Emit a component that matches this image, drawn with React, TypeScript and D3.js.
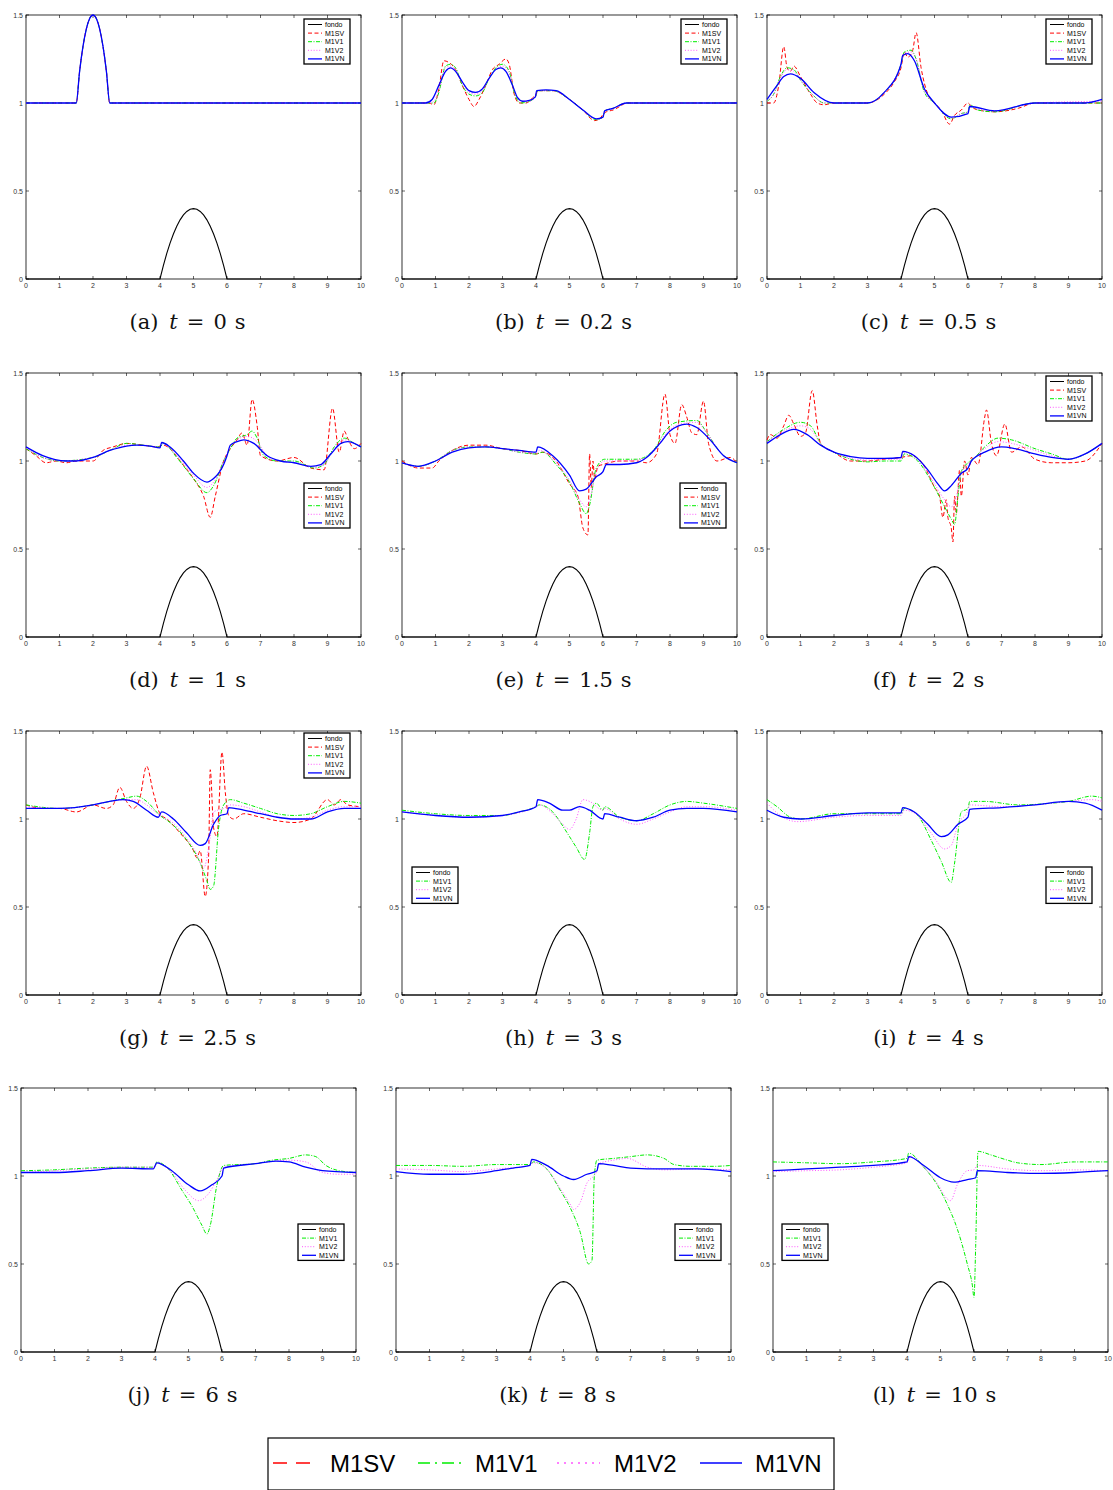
import React from 'react';
import * as d3 from 'd3';

type Pt = [number, number];

const xTicks = [0, 1, 2, 3, 4, 5, 6, 7, 8, 9, 10];
const yTicks = [0, 0.5, 1, 1.5];
const yTickLabels = ['0', '0.5', '1', '1.5'];
const seriesNames = ['fondo', 'M1SV', 'M1V1', 'M1V2', 'M1VN'];
const panelIds = ['a', 'b', 'c', 'd', 'e', 'f', 'g', 'h', 'i', 'j', 'k', 'l'];
const times = ['0', '0.2', '0.5', '1', '1.5', '2', '2.5', '3', '4', '6', '8', '10'];

// bottom topography (same in every panel)
const fondo: Pt[] = [[0, 0], [4, 0], [4.1, 0.076], [4.2, 0.144], [4.3, 0.204], [4.4, 0.256], [4.5, 0.3], [4.6, 0.336], [4.7, 0.364], [4.8, 0.384], [4.9, 0.396], [5, 0.4], [5.1, 0.396], [5.2, 0.384], [5.3, 0.364], [5.4, 0.336], [5.5, 0.3], [5.6, 0.256], [5.7, 0.204], [5.8, 0.144], [5.9, 0.076], [6, 0], [10, 0]];

// (a) t = 0
const aAll: Pt[] = [[0, 1], [1.5, 1], [1.6, 1.18], [1.7, 1.32], [1.8, 1.42], [1.9, 1.48], [2, 1.5], [2.1, 1.48], [2.2, 1.42], [2.3, 1.32], [2.4, 1.18], [2.5, 1], [10, 1]];

// (b) t = 0.2
const bSV: Pt[] = [[0, 1], [0.8, 1], [0.95, 0.99], [1.1, 1.08], [1.25, 1.24], [1.4, 1.23], [1.6, 1.19], [1.8, 1.1], [2.0, 1.02], [2.15, 0.98], [2.3, 1.02], [2.5, 1.1], [2.7, 1.19], [2.9, 1.22], [3.1, 1.25], [3.2, 1.22], [3.35, 1.05], [3.5, 1.0], [3.7, 1.0], [3.9, 1.03], [4.0, 1.05], [4.05, 1.07], [4.5, 1.07], [5, 1.02], [5.4, 0.96], [5.75, 0.9], [5.9, 0.91], [6.0, 0.935], [6.1, 0.95], [6.3, 0.96], [6.5, 0.98], [6.7, 1], [10, 1]];
const bV1: Pt[] = [[0, 1], [0.8, 1], [0.95, 1.0], [1.1, 1.06], [1.3, 1.21], [1.45, 1.22], [1.6, 1.2], [1.8, 1.1], [2.0, 1.05], [2.2, 1.04], [2.4, 1.06], [2.6, 1.14], [2.8, 1.2], [3.0, 1.22], [3.2, 1.18], [3.35, 1.06], [3.55, 1.0], [3.8, 1.01], [4.0, 1.04], [4.05, 1.07], [4.5, 1.07], [5, 1.02], [5.4, 0.96], [5.8, 0.905], [6.0, 0.92], [6.05, 0.955], [6.3, 0.97], [6.7, 1], [10, 1]];
const bV2: Pt[] = [[0, 1], [0.8, 1], [0.95, 1.01], [1.1, 1.07], [1.3, 1.2], [1.45, 1.21], [1.6, 1.19], [1.8, 1.11], [2.0, 1.06], [2.2, 1.05], [2.4, 1.07], [2.6, 1.14], [2.8, 1.19], [3.0, 1.21], [3.2, 1.17], [3.35, 1.07], [3.55, 1.01], [3.8, 1.01], [4.0, 1.04], [4.05, 1.07], [4.5, 1.07], [5, 1.02], [5.4, 0.96], [5.8, 0.91], [6.0, 0.92], [6.05, 0.955], [6.3, 0.97], [6.7, 1], [10, 1]];
const bVN: Pt[] = [[0, 1], [0.7, 1], [0.9, 1.02], [1.1, 1.1], [1.3, 1.18], [1.45, 1.2], [1.6, 1.18], [1.8, 1.12], [2.0, 1.07], [2.2, 1.06], [2.4, 1.08], [2.6, 1.14], [2.8, 1.19], [2.95, 1.2], [3.1, 1.18], [3.3, 1.1], [3.45, 1.03], [3.6, 1.01], [3.8, 1.015], [3.98, 1.035], [4.02, 1.07], [4.3, 1.075], [4.6, 1.07], [5.0, 1.02], [5.4, 0.96], [5.8, 0.91], [6.0, 0.92], [6.05, 0.955], [6.3, 0.97], [6.7, 1], [10, 1]];

// (c) t = 0.5
const cSV: Pt[] = [[0, 1], [0.2, 1.0], [0.35, 1.1], [0.5, 1.32], [0.6, 1.2], [0.7, 1.18], [0.8, 1.21], [1.0, 1.15], [1.3, 1.05], [1.5, 1.0], [1.7, 0.99], [2.0, 1.0], [3.0, 1.0], [3.5, 1.05], [3.8, 1.12], [4.0, 1.2], [4.1, 1.29], [4.2, 1.26], [4.35, 1.3], [4.45, 1.4], [4.6, 1.2], [4.8, 1.05], [5.0, 1.0], [5.2, 0.96], [5.45, 0.88], [5.6, 0.93], [5.8, 0.96], [6.0, 1.0], [6.1, 0.98], [6.3, 0.96], [6.8, 0.95], [7.5, 0.97], [8, 1.0], [10, 1.0]];
const cV1: Pt[] = [[0, 1.01], [0.2, 1.05], [0.4, 1.15], [0.6, 1.2], [0.8, 1.19], [1.0, 1.13], [1.4, 1.04], [1.7, 1.0], [2, 1.0], [3, 1.0], [3.5, 1.06], [4.0, 1.22], [4.1, 1.29], [4.3, 1.3], [4.45, 1.25], [4.7, 1.06], [5.0, 1.0], [5.5, 0.91], [5.8, 0.94], [6.0, 0.95], [6.05, 0.99], [6.3, 0.96], [6.8, 0.95], [8, 1.0], [10, 1.0]];
const cV2: Pt[] = [[0, 1.01], [0.2, 1.05], [0.4, 1.14], [0.6, 1.19], [0.8, 1.18], [1.0, 1.13], [1.4, 1.04], [1.7, 1.0], [2, 1.0], [3, 1.0], [3.5, 1.06], [4.0, 1.22], [4.1, 1.28], [4.3, 1.29], [4.45, 1.25], [4.7, 1.07], [5.0, 1.0], [5.5, 0.915], [5.8, 0.94], [6.0, 0.95], [6.05, 0.985], [6.3, 0.965], [6.8, 0.955], [8, 1.0], [10, 1.01]];
const cVN: Pt[] = [[0, 1.02], [0.3, 1.1], [0.5, 1.15], [0.7, 1.165], [1.0, 1.14], [1.4, 1.06], [2.0, 1.0], [3.0, 1.0], [3.5, 1.06], [4.0, 1.22], [4.05, 1.27], [4.2, 1.28], [4.4, 1.24], [4.7, 1.08], [5.0, 1.0], [5.5, 0.92], [6.0, 0.94], [6.05, 0.98], [6.8, 0.955], [8, 1.0], [9.5, 1.0], [10, 1.02]];

// (d) t = 1
const dSV: Pt[] = [[0, 1.07], [0.3, 1.03], [0.6, 0.99], [0.9, 1.0], [1.2, 0.99], [1.5, 1.0], [2.0, 1.0], [2.3, 1.06], [2.6, 1.08], [3.0, 1.1], [3.5, 1.09], [3.9, 1.08], [4.1, 1.09], [4.3, 1.07], [4.6, 1.0], [5.0, 0.9], [5.3, 0.8], [5.5, 0.68], [5.65, 0.8], [5.9, 1.0], [6.1, 1.07], [6.3, 1.12], [6.45, 1.16], [6.6, 1.09], [6.75, 1.35], [6.9, 1.2], [7.0, 1.03], [7.5, 1.0], [8.0, 1.02], [8.5, 0.96], [8.9, 0.95], [9.15, 1.3], [9.35, 1.05], [9.5, 1.17], [9.6, 1.13], [9.8, 1.07], [10, 1.1]];
const dV1: Pt[] = [[0, 1.07], [0.5, 1.02], [1.0, 1.0], [2, 1.02], [2.5, 1.06], [3.0, 1.1], [3.5, 1.09], [4.0, 1.08], [4.1, 1.1], [4.5, 1.02], [5.0, 0.9], [5.4, 0.82], [5.6, 0.86], [5.9, 1.0], [6.1, 1.07], [6.3, 1.13], [6.6, 1.15], [6.75, 1.17], [6.9, 1.13], [7.1, 1.03], [7.5, 1.0], [8, 1.0], [8.6, 0.96], [8.9, 0.98], [9.2, 1.08], [9.5, 1.13], [9.8, 1.1], [10, 1.08]];
const dV2: Pt[] = [[0, 1.075], [0.5, 1.02], [1.0, 1.0], [2, 1.02], [2.5, 1.06], [3.0, 1.09], [3.5, 1.09], [4.0, 1.08], [4.05, 1.1], [4.5, 1.03], [5.0, 0.92], [5.4, 0.85], [5.6, 0.88], [5.9, 1.0], [6.1, 1.08], [6.3, 1.12], [6.6, 1.14], [6.9, 1.11], [7.2, 1.03], [7.6, 1.0], [8, 0.99], [8.6, 0.965], [8.9, 0.98], [9.2, 1.07], [9.5, 1.12], [9.8, 1.1], [10, 1.08]];
const dVN: Pt[] = [[0, 1.08], [0.5, 1.03], [1.2, 1.0], [1.5, 1.0], [2, 1.02], [2.5, 1.06], [3, 1.085], [3.3, 1.09], [3.7, 1.085], [4.0, 1.075], [4.05, 1.105], [4.3, 1.08], [4.7, 1.0], [5.0, 0.93], [5.4, 0.88], [5.6, 0.9], [5.9, 0.98], [6.0, 1.03], [6.1, 1.09], [6.3, 1.11], [6.5, 1.12], [6.8, 1.1], [7.2, 1.03], [7.6, 1.0], [8, 0.99], [8.5, 0.97], [8.8, 0.98], [9.1, 1.04], [9.4, 1.1], [9.6, 1.11], [10, 1.08]];

// (e) t = 1.5
const eSV: Pt[] = [[0, 1.0], [0.5, 0.96], [0.9, 0.96], [1.1, 1.0], [1.5, 1.06], [2.0, 1.09], [2.5, 1.09], [3.0, 1.07], [3.5, 1.06], [4.0, 1.04], [4.2, 1.05], [4.6, 1.0], [5.0, 0.87], [5.25, 0.8], [5.4, 0.62], [5.55, 0.58], [5.6, 1.04], [5.65, 0.85], [5.7, 1.0], [5.75, 0.9], [5.85, 0.97], [6.0, 0.98], [6.5, 1.0], [7.0, 1.0], [7.3, 0.99], [7.6, 1.04], [7.85, 1.38], [8.0, 1.15], [8.15, 1.1], [8.35, 1.32], [8.5, 1.25], [8.65, 1.16], [8.8, 1.15], [9.0, 1.34], [9.15, 1.1], [9.4, 1.0], [9.8, 1.02], [10, 0.99]];
const eV1: Pt[] = [[0, 0.99], [0.5, 0.97], [1.0, 1.0], [1.5, 1.06], [2.0, 1.08], [2.5, 1.08], [3, 1.07], [3.5, 1.05], [4.0, 1.04], [4.2, 1.05], [4.6, 0.98], [5.0, 0.88], [5.3, 0.76], [5.5, 0.7], [5.6, 0.75], [5.8, 0.96], [6.05, 1.01], [6.5, 1.01], [7.0, 1.01], [7.5, 1.06], [7.9, 1.18], [8.2, 1.22], [8.8, 1.23], [9.1, 1.16], [9.5, 1.05], [10, 0.99]];
const eV2: Pt[] = [[0, 0.99], [0.5, 0.97], [1.0, 1.0], [1.5, 1.06], [2.0, 1.08], [2.5, 1.08], [3, 1.07], [3.5, 1.05], [4.0, 1.045], [4.1, 1.06], [4.6, 0.99], [5.0, 0.89], [5.3, 0.78], [5.5, 0.74], [5.6, 0.78], [5.8, 0.94], [6.05, 1.0], [6.5, 1.0], [7.0, 1.005], [7.5, 1.05], [7.9, 1.16], [8.3, 1.21], [8.8, 1.22], [9.1, 1.16], [9.5, 1.05], [10, 0.99]];
const eVN: Pt[] = [[0, 0.99], [0.5, 0.97], [1.0, 1.0], [1.5, 1.05], [2.0, 1.075], [2.5, 1.08], [3.0, 1.07], [3.5, 1.06], [4.0, 1.05], [4.05, 1.08], [4.5, 1.03], [5.0, 0.92], [5.3, 0.83], [5.5, 0.84], [5.8, 0.91], [6.0, 0.94], [6.1, 0.98], [6.5, 0.98], [7.0, 0.99], [7.3, 1.02], [7.7, 1.1], [8.0, 1.17], [8.5, 1.21], [8.8, 1.19], [9.2, 1.12], [9.6, 1.03], [10, 0.99]];

// (f) t = 2
const fSV: Pt[] = [[0, 1.12], [0.1, 1.15], [0.3, 1.13], [0.5, 1.2], [0.65, 1.26], [0.8, 1.21], [1.0, 1.14], [1.15, 1.16], [1.35, 1.4], [1.5, 1.2], [1.6, 1.1], [2.0, 1.05], [2.5, 1.0], [3.0, 1.0], [3.5, 1.01], [4.0, 1.02], [4.3, 1.03], [4.7, 0.97], [5.0, 0.85], [5.15, 0.8], [5.25, 0.68], [5.35, 0.78], [5.4, 0.68], [5.5, 0.62], [5.55, 0.54], [5.6, 0.8], [5.65, 0.7], [5.75, 0.95], [5.8, 0.8], [5.9, 1.0], [6.0, 0.92], [6.1, 1.02], [6.3, 0.98], [6.5, 1.25], [6.55, 1.29], [6.7, 1.1], [6.85, 1.03], [7.1, 1.21], [7.3, 1.05], [7.6, 1.08], [8.0, 1.01], [8.5, 0.99], [9.0, 0.99], [9.5, 1.0], [10, 1.1]];
const fV1: Pt[] = [[0, 1.11], [0.5, 1.18], [1.0, 1.22], [1.3, 1.2], [1.6, 1.1], [2.0, 1.05], [2.5, 1.01], [3, 0.995], [3.5, 1.0], [4.0, 1.0], [4.1, 1.04], [4.5, 1.0], [5.0, 0.85], [5.3, 0.74], [5.5, 0.67], [5.6, 0.64], [5.7, 0.8], [5.8, 0.94], [6.0, 0.99], [6.2, 1.02], [6.5, 1.08], [6.9, 1.13], [7.3, 1.12], [8.0, 1.07], [8.5, 1.04], [9.0, 1.01], [9.5, 1.04], [10, 1.1]];
const fV2: Pt[] = [[0, 1.11], [0.5, 1.17], [1.0, 1.2], [1.3, 1.18], [1.6, 1.1], [2.0, 1.05], [2.5, 1.015], [3, 1.005], [3.5, 1.01], [4.0, 1.01], [4.1, 1.05], [4.5, 1.01], [5.0, 0.87], [5.3, 0.78], [5.5, 0.74], [5.6, 0.76], [5.8, 0.93], [6.0, 0.98], [6.2, 1.02], [6.5, 1.07], [6.9, 1.11], [7.3, 1.1], [8.0, 1.06], [8.5, 1.03], [9.0, 1.01], [9.5, 1.04], [10, 1.1]];
const fVN: Pt[] = [[0, 1.1], [0.4, 1.15], [0.8, 1.18], [1.2, 1.15], [1.6, 1.09], [2.0, 1.05], [2.5, 1.025], [3.0, 1.015], [3.5, 1.015], [4.0, 1.02], [4.05, 1.055], [4.4, 1.03], [4.8, 0.95], [5.1, 0.87], [5.3, 0.83], [5.5, 0.86], [5.8, 0.93], [6.0, 0.96], [6.1, 1.0], [6.5, 1.05], [7.0, 1.08], [7.4, 1.07], [8.0, 1.04], [8.5, 1.02], [9.0, 1.01], [9.5, 1.04], [10, 1.1]];

// (g) t = 2.5
const gSV: Pt[] = [[0, 1.08], [0.5, 1.06], [1.0, 1.06], [1.5, 1.04], [2.0, 1.08], [2.4, 1.06], [2.6, 1.08], [2.8, 1.18], [3.0, 1.1], [3.2, 1.06], [3.4, 1.12], [3.6, 1.3], [3.8, 1.15], [4.0, 1.03], [4.2, 1.0], [4.6, 0.92], [5.0, 0.82], [5.1, 0.78], [5.2, 0.82], [5.35, 0.56], [5.45, 0.78], [5.5, 1.28], [5.6, 0.95], [5.7, 0.9], [5.85, 1.38], [5.95, 1.15], [6.05, 1.02], [6.2, 1.0], [6.5, 1.03], [7.0, 1.01], [7.5, 0.99], [8.0, 0.98], [8.5, 1.0], [9.0, 1.11], [9.2, 1.08], [9.4, 1.11], [9.6, 1.08], [10, 1.07]];
const gV1: Pt[] = [[0, 1.08], [1, 1.06], [2, 1.08], [2.5, 1.1], [3.0, 1.12], [3.3, 1.13], [3.6, 1.1], [4.0, 1.02], [4.3, 0.98], [4.8, 0.88], [5.2, 0.75], [5.4, 0.65], [5.5, 0.6], [5.6, 0.62], [5.75, 0.95], [5.9, 1.08], [6.1, 1.11], [6.5, 1.09], [7, 1.06], [7.5, 1.03], [8, 1.02], [8.5, 1.03], [9, 1.07], [9.5, 1.1], [10, 1.09]];
const gV2: Pt[] = [[0, 1.07], [1, 1.06], [2, 1.08], [2.5, 1.1], [3.0, 1.11], [3.3, 1.11], [3.6, 1.08], [4.0, 1.02], [4.3, 0.99], [4.8, 0.89], [5.1, 0.8], [5.3, 0.72], [5.5, 0.9], [5.6, 1.04], [5.9, 1.06], [6.1, 1.08], [6.5, 1.07], [7, 1.04], [7.5, 1.01], [8, 1.0], [8.5, 1.01], [9, 1.05], [9.5, 1.07], [10, 1.07]];
const gVN: Pt[] = [[0, 1.06], [1, 1.06], [2, 1.08], [2.5, 1.1], [2.9, 1.11], [3.2, 1.1], [3.6, 1.05], [3.95, 1.01], [4.05, 1.04], [4.4, 1.0], [4.8, 0.92], [5.2, 0.85], [5.35, 0.86], [5.6, 0.97], [5.8, 1.02], [6.0, 1.03], [6.05, 1.065], [6.5, 1.05], [7.0, 1.03], [7.5, 1.01], [8.0, 1.0], [8.5, 1.0], [9.0, 1.04], [9.5, 1.06], [10, 1.06]];

// (h) t = 3
const hV1: Pt[] = [[0, 1.05], [1, 1.03], [2, 1.02], [3, 1.02], [3.5, 1.04], [4.0, 1.07], [4.1, 1.08], [4.5, 1.04], [4.8, 0.96], [5.0, 0.9], [5.2, 0.84], [5.45, 0.77], [5.6, 0.92], [5.7, 1.07], [5.8, 1.09], [6.0, 1.05], [6.05, 1.07], [6.5, 1.01], [7, 0.99], [7.5, 1.03], [8, 1.08], [8.5, 1.1], [9, 1.09], [10, 1.06]];
const hV2: Pt[] = [[0, 1.04], [2, 1.01], [3, 1.02], [4.0, 1.07], [4.1, 1.08], [4.5, 1.03], [4.8, 0.97], [5.0, 0.94], [5.2, 1.0], [5.4, 1.11], [5.6, 1.1], [6.0, 1.05], [6.05, 1.06], [6.5, 1.0], [7, 0.97], [7.5, 1.0], [8, 1.04], [8.5, 1.07], [9, 1.07], [10, 1.05]];
const hVN: Pt[] = [[0, 1.04], [1, 1.02], [2, 1.01], [3, 1.02], [3.5, 1.04], [4.0, 1.07], [4.05, 1.11], [4.4, 1.09], [4.8, 1.05], [5.0, 1.05], [5.3, 1.07], [5.6, 1.05], [6.0, 1.0], [6.05, 1.03], [6.5, 1.01], [7.0, 0.99], [7.5, 1.01], [8, 1.05], [8.5, 1.06], [9, 1.06], [10, 1.04]];

// (i) t = 4
const iV1: Pt[] = [[0, 1.11], [0.3, 1.07], [0.7, 1.01], [1, 1.0], [2, 1.03], [3, 1.03], [4.0, 1.03], [4.1, 1.06], [4.5, 1.02], [4.9, 0.88], [5.2, 0.76], [5.5, 0.64], [5.6, 0.75], [5.8, 1.04], [6.0, 1.06], [6.05, 1.1], [6.5, 1.1], [7.5, 1.08], [8.5, 1.09], [9, 1.1], [9.7, 1.13], [10, 1.12]];
const iV2: Pt[] = [[0, 1.09], [0.4, 1.02], [0.9, 0.985], [2, 1.01], [3, 1.02], [4.0, 1.02], [4.1, 1.05], [4.5, 1.02], [4.9, 0.92], [5.3, 0.83], [5.5, 0.85], [5.7, 0.97], [6.0, 1.05], [6.05, 1.08], [7, 1.07], [8, 1.08], [9, 1.1], [9.7, 1.11], [10, 1.1]];
const iVN: Pt[] = [[0, 1.05], [0.5, 1.01], [1, 1.0], [2, 1.02], [3, 1.035], [4.0, 1.035], [4.05, 1.065], [4.4, 1.04], [4.8, 0.97], [5.2, 0.9], [5.4, 0.91], [5.7, 0.97], [6.0, 1.01], [6.05, 1.055], [7, 1.065], [8, 1.08], [9, 1.1], [9.5, 1.09], [10, 1.05]];

// (j) t = 6
const jV1: Pt[] = [[0, 1.03], [1, 1.035], [2, 1.045], [3, 1.05], [4, 1.05], [4.05, 1.08], [4.4, 1.04], [4.8, 0.92], [5.1, 0.83], [5.4, 0.72], [5.55, 0.67], [5.65, 0.72], [5.85, 0.95], [6.05, 1.06], [7, 1.07], [7.5, 1.09], [8, 1.1], [8.5, 1.12], [8.8, 1.11], [9.1, 1.06], [9.5, 1.03], [10, 1.02]];
const jV2: Pt[] = [[0, 1.02], [1, 1.03], [2, 1.04], [3, 1.05], [4, 1.05], [4.05, 1.075], [4.5, 1.02], [4.9, 0.92], [5.3, 0.86], [5.6, 0.9], [5.85, 0.98], [6.05, 1.05], [7, 1.07], [8, 1.09], [8.5, 1.08], [9, 1.02], [9.5, 1.01], [10, 1.01]];
const jVN: Pt[] = [[0, 1.02], [1, 1.02], [2, 1.03], [3, 1.045], [3.95, 1.04], [4.05, 1.075], [4.5, 1.03], [5.0, 0.95], [5.35, 0.915], [5.7, 0.95], [6.0, 1.0], [6.05, 1.045], [7, 1.07], [7.6, 1.085], [8, 1.08], [8.5, 1.05], [9, 1.03], [10, 1.02]];

// (k) t = 8
const kV1: Pt[] = [[0, 1.06], [1, 1.06], [2, 1.055], [3, 1.065], [4.0, 1.065], [4.1, 1.08], [4.5, 1.04], [4.9, 0.92], [5.2, 0.82], [5.5, 0.68], [5.75, 0.5], [5.85, 0.52], [5.92, 1.0], [6.0, 1.09], [6.5, 1.1], [7, 1.11], [7.5, 1.12], [8, 1.1], [8.3, 1.065], [8.8, 1.055], [9.5, 1.055], [10, 1.06]];
const kV2: Pt[] = [[0, 1.04], [1, 1.035], [2, 1.025], [3, 1.04], [4, 1.06], [4.1, 1.075], [4.5, 1.04], [4.9, 0.93], [5.2, 0.84], [5.3, 0.81], [5.5, 0.85], [5.7, 0.96], [5.9, 1.0], [6.0, 1.03], [6.05, 1.07], [6.5, 1.09], [6.9, 1.1], [7.5, 1.05], [8, 1.035], [9, 1.04], [10, 1.035]];
const kVN: Pt[] = [[0, 1.025], [1, 1.01], [2, 1.01], [3, 1.03], [3.5, 1.045], [4.0, 1.06], [4.05, 1.095], [4.5, 1.06], [5.0, 1.0], [5.3, 0.98], [5.7, 1.01], [6.0, 1.03], [6.05, 1.07], [6.5, 1.06], [7, 1.045], [8, 1.04], [9, 1.04], [10, 1.025]];

// (l) t = 10
const lV1: Pt[] = [[0, 1.08], [1, 1.075], [2, 1.07], [3, 1.08], [4.0, 1.1], [4.05, 1.13], [4.5, 1.05], [4.9, 0.95], [5.2, 0.84], [5.5, 0.7], [5.8, 0.5], [5.95, 0.38], [6.0, 0.31], [6.05, 0.6], [6.12, 1.14], [6.5, 1.12], [7, 1.09], [7.3, 1.075], [8, 1.065], [9, 1.08], [10, 1.08]];
const lV2: Pt[] = [[0, 1.025], [1, 1.03], [2, 1.035], [3, 1.05], [4, 1.075], [4.1, 1.11], [4.5, 1.05], [4.9, 0.96], [5.2, 0.87], [5.3, 0.86], [5.5, 0.95], [5.8, 1.03], [6.0, 1.035], [6.1, 1.06], [7, 1.04], [8, 1.03], [9, 1.035], [10, 1.03]];
const lVN: Pt[] = [[0, 1.03], [1, 1.04], [2, 1.05], [3, 1.06], [4, 1.08], [4.05, 1.11], [4.5, 1.06], [5.0, 0.99], [5.4, 0.965], [5.8, 0.98], [6.05, 0.99], [6.1, 1.03], [7, 1.02], [8, 1.015], [9, 1.02], [10, 1.03]];

const panelSeries: (Pt[] | null)[][] = [
  [aAll, aAll, aAll, aAll],
  [bSV, bV1, bV2, bVN],
  [cSV, cV1, cV2, cVN],
  [dSV, dV1, dV2, dVN],
  [eSV, eV1, eV2, eVN],
  [fSV, fV1, fV2, fVN],
  [gSV, gV1, gV2, gVN],
  [null, hV1, hV2, hVN],
  [null, iV1, iV2, iVN],
  [null, jV1, jV2, jVN],
  [null, kV1, kV2, kVN],
  [null, lV1, lV2, lVN],
];

// layout
const W = 335;
const H = 264;
const origins = [[26, 15], [402, 15], [767, 15], [26, 373], [402, 373], [767, 373], [26, 731], [402, 731], [767, 731], [21, 1088], [396, 1088], [773, 1088]];
const legendPos = [[278, 4], [279, 4], [279, 4], [278, 110], [278, 110], [279, 3], [278, 2], [10, 136], [279, 136], [277, 136], [279, 136], [9, 136]];

const styles = [
  { color: '#000000', dash: '', width: 1 },
  { color: '#ff0000', dash: '4,2.5', width: 1 },
  { color: '#00ee00', dash: '4,1.5,1,1.5', width: 1 },
  { color: '#ff55ff', dash: '1,1.8', width: 1 },
  { color: '#0000ff', dash: '', width: 1.3 },
];

const x = d3.scaleLinear().domain([0, 10]).range([0, W]);
const y = d3.scaleLinear().domain([0, 1.5]).range([H, 0]);
const line = d3.line<Pt>().x(d => x(d[0])).y(d => y(d[1])).curve(d3.curveMonotoneX);
const lineLin = d3.line<Pt>().x(d => x(d[0])).y(d => y(d[1]));

const capFont = 'DejaVu Serif, Liberation Serif, serif';

const Panel = ({ idx }: { idx: number }) => {
  const [ox, oy] = origins[idx];
  const series = panelSeries[idx];
  const [lx, ly] = legendPos[idx];
  const entries = [0, 1, 2, 3, 4].filter(s => s === 0 || series[s - 1] !== null);
  const rowH = 8.6;
  const lh = entries.length * rowH + 2;
  return (
    <g transform={`translate(${ox},${oy})`}>
      <rect x={0} y={0} width={W} height={H} fill="none" stroke="#000" strokeWidth={0.8} />
      {xTicks.map(t => (
        <g key={'x' + t}>
          <line x1={x(t)} x2={x(t)} y1={H} y2={H - 3} stroke="#000" strokeWidth={0.6} />
          <line x1={x(t)} x2={x(t)} y1={0} y2={3} stroke="#000" strokeWidth={0.6} />
          <text x={x(t)} y={H + 9} fontSize={7} textAnchor="middle" fill="#333" fontFamily="Liberation Sans, Arial, sans-serif">{t}</text>
        </g>
      ))}
      {yTicks.map((t, i) => (
        <g key={'y' + t}>
          <line x1={0} x2={3} y1={y(t)} y2={y(t)} stroke="#000" strokeWidth={0.6} />
          <line x1={W} x2={W - 3} y1={y(t)} y2={y(t)} stroke="#000" strokeWidth={0.6} />
          <text x={-3} y={y(t) + 2.5} fontSize={7} textAnchor="end" fill="#333" fontFamily="Liberation Sans, Arial, sans-serif">{yTickLabels[i]}</text>
        </g>
      ))}
      <path d={lineLin(fondo) || ''} fill="none" stroke="#000" strokeWidth={1.1} />
      {series.map((s, i) => s && (
        <path key={i} d={line(s) || ''} fill="none" stroke={styles[i + 1].color}
          strokeWidth={styles[i + 1].width} strokeDasharray={styles[i + 1].dash} />
      ))}
      <g transform={`translate(${lx},${ly})`}>
        <rect x={0} y={0} width={46} height={lh} fill="#fff" stroke="#000" strokeWidth={1.3} />
        {entries.map((s, i) => (
          <g key={s} transform={`translate(0,${i * rowH + 5.5})`}>
            <line x1={4} x2={18} y1={0} y2={0} stroke={styles[s].color} strokeWidth={styles[s].width}
              strokeDasharray={styles[s].dash} />
            <text x={21} y={2.5} fontSize={7} fill="#000" fontFamily="Liberation Sans, Arial, sans-serif">{seriesNames[s]}</text>
          </g>
        ))}
      </g>
      <text x={W / 2 - 6} y={314} fontSize={21} textAnchor="middle" fontFamily={capFont} fill="#111">
        <tspan>({panelIds[idx]})</tspan>
        <tspan dx={11} fontStyle="italic">t</tspan>
        <tspan dx={9}>=</tspan>
        <tspan dx={9}>{times[idx]}</tspan>
        <tspan dx={8}>s</tspan>
      </text>
    </g>
  );
};

const bottomLegend = [
  { s: 1, x1: 273, x2: 318, tx: 330 },
  { s: 2, x1: 418, x2: 463, tx: 475 },
  { s: 3, x1: 557, x2: 600, tx: 614 },
  { s: 4, x1: 700, x2: 742, tx: 755 },
];

export default function App() {
  return (
    <svg width={1113} height={1490} style={{ position: 'absolute', left: 0, top: 0, background: '#fff' }}>
      <rect width={1113} height={1490} fill="#fff" />
      {panelIds.map((_, i) => <Panel key={i} idx={i} />)}
      <rect x={268} y={1438} width={566} height={52} fill="#fff" stroke="#000" strokeWidth={1.2} />
      {bottomLegend.map(e => (
        <g key={e.s}>
          <line x1={e.x1} x2={e.x2} y1={1463} y2={1463} stroke={styles[e.s].color} strokeWidth={1.3}
            strokeDasharray={e.s === 1 ? '14,9' : e.s === 2 ? '12,5,2,5' : e.s === 3 ? '2,5' : ''} />
          <text x={e.tx} y={1472} fontSize={24} fontFamily="Liberation Sans, Arial, sans-serif">{seriesNames[e.s]}</text>
        </g>
      ))}
    </svg>
  );
}
